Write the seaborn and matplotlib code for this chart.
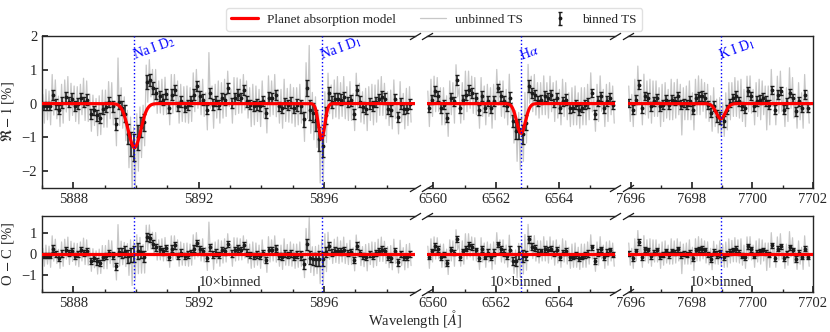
import numpy as np
import matplotlib
matplotlib.use("Agg")
import matplotlib.pyplot as plt
import seaborn as sns
from matplotlib.ticker import MultipleLocator

# binned transmission spectrum (R-1, in %), 0.1 A bins, first bin centre of each window
na_start, ha_start, k_start = 5887.05, 6559.85, 7695.95
bin_step = 0.1

na_rel = [-0.08, -0.08, -0.08, 0.26, 0.0, -0.18, 0.02, 0.2, 0.05, 0.15,
          -0.08, 0.0, 0.17, 0.05, 0.12, -0.32, -0.2, -0.35, -0.42, -0.15,
          -0.1, 0.05, -0.08, -0.6, 0.05, -0.13, -0.3, -0.9, -1.2, -1.3,
          -1.0, -0.7, -0.55, 0.64, 0.7, 0.46, 0.31, 0.22, 0.12, 0.28,
          -0.13, 0.26, 0.41, -0.08, 0.07, -0.1, -0.03, 0.07, 0.26, 0.51,
          0.22, 0.12, -0.18, 0.31, -0.03, 0.07, -0.03, 0.17, 0.12, 0.46,
          0.02, 0.17, 0.26, 0.17, 0.41, 0.07, -0.03, -0.08, -0.03, -0.08,
          0.07, -0.27, 0.17, 0.17, 0.26, -0.08, -0.13, 0.02, -0.05, 0.02,
          -0.13, -0.03, -0.08, -0.47, 0.46, -0.18, -0.27, -0.5, -1.05, -1.25,
          -0.35, 0.3, 0.05, 0.15, 0.15, 0.12, 0.2, 0.05, 0.1, -0.3,
          0.4, 0.05, -0.1, -0.15, 0.0, -0.08, 0.05, 0.15, 0.2, 0.15,
          -0.15, -0.2, 0.15, -0.4, 0.0, -0.15, -0.15, 0.0]
na_err = [0.12, 0.12, 0.12, 0.15, 0.15, 0.14, 0.16, 0.15, 0.14, 0.15,
          0.15, 0.16, 0.14, 0.15, 0.16, 0.15, 0.14, 0.16, 0.15, 0.15,
          0.16, 0.15, 0.17, 0.18, 0.2, 0.22, 0.25, 0.3, 0.35, 0.4,
          0.38, 0.3, 0.25, 0.2, 0.18, 0.17, 0.16, 0.15, 0.16, 0.15,
          0.15, 0.16, 0.15, 0.14, 0.16, 0.15, 0.15, 0.14, 0.16, 0.15,
          0.16, 0.15, 0.14, 0.15, 0.16, 0.15, 0.14, 0.15, 0.16, 0.15,
          0.15, 0.14, 0.16, 0.15, 0.15, 0.16, 0.14, 0.15, 0.16, 0.15,
          0.14, 0.15, 0.16, 0.15, 0.15, 0.14, 0.16, 0.15, 0.15, 0.16,
          0.16, 0.18, 0.2, 0.22, 0.25, 0.3, 0.28, 0.3, 0.35, 0.32,
          0.25, 0.2, 0.17, 0.16, 0.15, 0.16, 0.15, 0.14, 0.16, 0.15,
          0.15, 0.16, 0.14, 0.15, 0.16, 0.15, 0.15, 0.14, 0.16, 0.15,
          0.15, 0.16, 0.14, 0.15, 0.16, 0.15, 0.14, 0.15]
# spread of the unbinned points above / below each bin
na_up = [0.35, 0.5, 0.45, 0.6, 0.7, 0.4, 0.55, 0.5, 0.75, 0.45,
         0.6, 0.5, 0.4, 0.7, 0.55, 0.6, 0.45, 0.5, 0.65, 0.55,
         0.5, 0.6, 0.7, 0.55, 1.3, 0.6, 0.5, 0.7, 0.8, 0.6,
         0.7, 0.6, 0.5, 0.5, 0.6, 0.55, 0.7, 0.45, 0.6, 0.5,
         0.55, 0.6, 0.45, 0.75, 0.5, 0.6, 0.55, 0.4, 0.65, 0.5,
         0.45, 0.6, 0.5, 1.2, 0.55, 0.5, 0.7, 0.45, 0.6, 0.5,
         0.4, 0.6, 0.5, 0.55, 0.45, 0.6, 0.5, 0.65, 0.55, 0.5,
         0.6, 0.45, 0.65, 0.5, 0.6, 0.5, 0.55, 0.7, 0.5, 0.55,
         0.6, 0.5, 0.65, 0.55, 0.75, 1.9, 0.6, 0.7, 0.8, 0.9,
         0.7, 0.6, 0.5, 0.55, 0.65, 0.5, 0.6, 0.45, 0.55, 0.6,
         0.5, 0.55, 0.45, 0.6, 0.5, 0.65, 0.5, 0.55, 0.6, 0.45,
         0.5, 0.6, 0.55, 0.5, 0.65, 0.45, 0.6, 0.5]
na_dn = [0.5, 0.4, 0.55, 0.6, 0.45, 0.5, 0.6, 0.45, 0.55, 0.5,
         0.45, 0.6, 0.5, 0.55, 0.65, 0.5, 0.45, 0.6, 0.5, 0.55,
         0.6, 0.5, 0.55, 0.65, 0.7, 0.6, 0.8, 1.0, 1.5, 1.2,
         1.0, 0.9, 0.7, 0.6, 0.5, 0.55, 0.6, 0.5, 0.45, 0.6,
         0.5, 0.55, 0.65, 0.5, 0.6, 0.45, 0.55, 0.6, 0.5, 0.65,
         0.55, 0.5, 0.6, 0.45, 0.7, 0.5, 0.55, 0.6, 0.5, 0.55,
         0.6, 0.5, 0.55, 0.45, 0.6, 0.5, 0.65, 0.55, 0.5, 0.6,
         0.5, 0.6, 0.55, 0.5, 0.65, 0.5, 0.6, 0.55, 0.5, 0.6,
         0.55, 0.6, 0.5, 0.65, 0.9, 0.7, 0.8, 0.8, 1.3, 1.1,
         0.8, 0.6, 0.5, 0.55, 0.6, 0.5, 0.65, 0.55, 0.6, 0.5,
         0.55, 0.6, 0.5, 0.65, 0.5, 0.55, 0.6, 0.5, 0.55, 0.6,
         0.5, 0.55, 0.6, 0.5, 0.55, 0.6, 0.5, 0.55]

ha_rel = [-0.13, 0.12, 0.36, 0.22, -0.13, -0.03, -0.42, 0.17, 0.07, 0.7,
          -0.13, 0.12, 0.26, 0.41, 0.31, 0.17, -0.18, 0.22, -0.13, 0.07,
          -0.13, 0.07, 0.46, 0.22, 0.07, -0.08, 0.17, -0.52, -0.81, -0.76,
          -0.91, -0.57, 0.51, 0.31, 0.26, 0.07, 0.12, 0.22, 0.17, 0.26,
          0.02, 0.17, -0.13, 0.07, 0.12, -0.13, -0.13, -0.03, -0.18, -0.13,
          -0.03, 0.02, 0.31, -0.32, 0.07, 0.22, -0.13, 0.07, 0.17, -0.03]
ha_err = [0.12, 0.13, 0.15, 0.14, 0.15, 0.13, 0.14, 0.15, 0.13, 0.14,
          0.15, 0.13, 0.14, 0.15, 0.14, 0.13, 0.15, 0.14, 0.13, 0.15,
          0.14, 0.15, 0.13, 0.14, 0.15, 0.14, 0.16, 0.18, 0.25, 0.3,
          0.28, 0.22, 0.18, 0.15, 0.14, 0.15, 0.13, 0.14, 0.15, 0.14,
          0.13, 0.15, 0.14, 0.13, 0.15, 0.14, 0.13, 0.14, 0.15, 0.13,
          0.14, 0.15, 0.13, 0.14, 0.15, 0.13, 0.14, 0.15, 0.13, 0.12]
ha_up = [0.5, 0.6, 0.45, 0.55, 0.6, 0.5, 0.65, 0.5, 0.55, 0.45,
         0.6, 0.5, 0.7, 0.55, 0.5, 0.6, 0.45, 0.55, 0.65, 0.5,
         0.6, 0.5, 0.55, 0.45, 0.6, 0.5, 0.7, 0.55, 0.6, 0.5,
         0.55, 0.9, 0.65, 0.5, 0.6, 0.55, 0.5, 0.6, 0.45, 0.55,
         0.6, 0.5, 0.55, 0.65, 0.5, 0.45, 0.6, 0.55, 0.5, 0.6,
         0.5, 0.55, 0.6, 0.45, 0.5, 0.6, 0.55, 0.5, 0.45, 0.55]
ha_dn = [0.55, 0.5, 0.6, 0.45, 0.5, 0.6, 0.55, 0.5, 0.65, 0.5,
         0.45, 0.6, 0.5, 0.55, 0.6, 0.5, 0.55, 0.6, 0.5, 0.45,
         0.6, 0.55, 0.5, 0.6, 0.5, 0.55, 0.6, 0.65, 0.9, 1.2,
         0.8, 0.6, 0.5, 0.55, 0.6, 0.5, 0.45, 0.55, 0.6, 0.5,
         0.55, 0.6, 0.5, 0.45, 0.6, 0.55, 0.5, 0.6, 0.55, 0.5,
         0.6, 0.5, 0.55, 0.5, 0.6, 0.45, 0.55, 0.6, 0.5, 0.55]

k_rel = [0.02, -0.18, 0.12, 0.56, -0.13, 0.22, 0.17, -0.08, 0.07, 0.17,
         -0.08, -0.03, 0.12, -0.03, 0.12, 0.07, 0.22, -0.03, 0.02, -0.03,
         0.07, -0.18, 0.17, 0.22, 0.22, 0.17, -0.03, -0.27, -0.08, -0.37,
         -0.42, -0.52, -0.18, 0.02, 0.17, 0.22, 0.07, -0.08, -0.13, 0.36,
         0.22, -0.08, 0.07, 0.12, 0.17, 0.07, -0.03, 0.41, -0.18, 0.26,
         0.36, -0.18, 0.02, 0.31, 0.17, -0.23, 0.07, -0.13, 0.26, -0.13]
k_err = [0.12, 0.13, 0.14, 0.13, 0.14, 0.12, 0.13, 0.14, 0.13, 0.12,
         0.14, 0.13, 0.12, 0.14, 0.13, 0.12, 0.13, 0.14, 0.12, 0.13,
         0.14, 0.13, 0.12, 0.13, 0.14, 0.13, 0.12, 0.14, 0.15, 0.17,
         0.18, 0.16, 0.14, 0.13, 0.12, 0.14, 0.13, 0.12, 0.14, 0.13,
         0.12, 0.13, 0.14, 0.12, 0.13, 0.14, 0.13, 0.12, 0.14, 0.13,
         0.12, 0.13, 0.14, 0.13, 0.12, 0.14, 0.13, 0.12, 0.13, 0.12]
k_up = [0.5, 0.45, 0.6, 0.55, 0.5, 0.65, 0.5, 0.8, 0.6, 0.5,
        0.55, 0.6, 0.5, 0.45, 0.6, 0.55, 0.5, 0.6, 0.45, 0.55,
        0.6, 0.5, 0.55, 0.6, 0.5, 0.45, 0.6, 0.5, 0.55, 0.5,
        0.6, 0.55, 0.5, 0.6, 0.45, 0.55, 0.6, 0.8, 0.55, 0.45,
        0.6, 0.5, 0.55, 0.6, 0.5, 0.45, 0.55, 0.6, 0.5, 0.55,
        0.6, 0.5, 0.45, 0.75, 0.6, 0.5, 0.55, 0.45, 0.6, 0.5]
k_dn = [0.55, 0.5, 0.45, 0.6, 0.5, 0.55, 0.6, 0.5, 0.45, 0.55,
        0.6, 0.5, 0.55, 0.45, 0.6, 0.5, 0.55, 0.9, 0.5, 0.45,
        0.55, 0.6, 0.5, 0.55, 0.45, 0.6, 0.5, 0.55, 0.6, 0.5,
        0.55, 0.45, 0.6, 0.5, 0.55, 0.6, 0.5, 0.45, 0.55, 0.6,
        0.5, 0.55, 0.45, 0.6, 0.5, 0.85, 0.6, 0.5, 0.45, 0.55,
        0.6, 0.5, 0.55, 0.45, 0.6, 0.5, 0.55, 0.6, 0.5, 0.45]

# gaussian absorption model
line_names = ['Na I D$_2$', 'Na I D$_1$', r'H$\alpha$', 'K I D$_1$']
line_centers = [5889.95, 5895.92, 6562.80, 7698.96]
line_depths = [1.30, 1.05, 0.88, 0.45]
line_sigmas = [0.20, 0.10, 0.14, 0.15]

xlims = [(5887.0, 5898.9), (6559.8, 6565.8), (7695.9, 7702.0)]


def model(x):
    m = np.zeros_like(x)
    for c, d, s in zip(line_centers, line_depths, line_sigmas):
        m -= d * np.exp(-0.5 * ((x - c) / s) ** 2)
    return m


sns.set_theme(style='ticks')
plt.rcParams['font.family'] = ['Liberation Serif', 'DejaVu Serif']
plt.rcParams['mathtext.fontset'] = 'stix'
plt.rcParams['font.size'] = 10.5
plt.rcParams['axes.linewidth'] = 1.0

fig = plt.figure(figsize=(8.3, 3.32), dpi=100)
lefts = [0.0506, 0.5145, 0.7566]
widths = [0.4494, 0.2265, 0.2229]

panels = [(na_start, na_rel, na_err, na_up, na_dn),
          (ha_start, ha_rel, ha_err, ha_up, ha_dn),
          (k_start, k_rel, k_err, k_up, k_dn)]


def breaks(ax, x):
    kw = dict(marker=[(-1, -0.6), (1, 0.6)], markersize=8, linestyle='none',
              color='k', mec='k', mew=0.9, clip_on=False, transform=ax.transAxes)
    ax.plot([x, x], [0, 1], **kw)


handles = None
for j, (start, rel, err, up, dn) in enumerate(panels):
    rel = np.array(rel)
    xb = start + bin_step * np.arange(len(rel))
    gx = np.ravel(np.column_stack([xb - 0.025, xb + 0.025]))
    gy = np.ravel(np.column_stack([rel + np.array(up), rel - np.array(dn)]))
    xf = np.linspace(xlims[j][0], xlims[j][1], 800)

    ax_t = fig.add_axes([lefts[j], 0.4337, widths[j], 0.4578])
    ax_b = fig.add_axes([lefts[j], 0.1205, widths[j], 0.2289])

    for row, ax in enumerate([ax_t, ax_b]):
        off_b = model(xb) if row == 1 else 0
        off_g = model(gx) if row == 1 else 0
        sns.lineplot(x=gx, y=gy - off_g, ax=ax, color='0.78', lw=0.9,
                     estimator=None, sort=False, zorder=1)
        gline = ax.lines[-1]
        eb = ax.errorbar(xb, rel - off_b, yerr=err, fmt='.', color='k', ms=3.5,
                         elinewidth=1.1, capsize=1.6, capthick=1.0, zorder=2)
        if row == 0:
            sns.lineplot(x=xf, y=model(xf), ax=ax, color='red', lw=2.3, zorder=3)
        else:
            sns.lineplot(x=xf, y=model(xf) - model(xf), ax=ax, color='red', lw=2.3, zorder=3)
        mline = ax.lines[-1]
        if j == 0 and row == 0:
            handles = [mline, gline, eb]

        for name, c in zip(line_names, line_centers):
            if xlims[j][0] < c < xlims[j][1]:
                ax.axvline(c, color='blue', ls=':', lw=1, zorder=4)
                if row == 0:
                    ax.text(c + 0.05, 1.2, name, color='blue', fontsize=10,
                            rotation=20, rotation_mode='anchor', ha='left', va='bottom')

        ax.set_xlim(*xlims[j])
        ax.xaxis.set_major_locator(MultipleLocator(4 if j == 0 else 2))
        ax.xaxis.set_minor_locator(MultipleLocator(1))
        ax.tick_params(which='both', direction='in', labelsize=10.5)
        ax.tick_params(which='major', length=4)
        ax.tick_params(which='minor', length=2.5)
        if row == 0:
            ax.set_ylim(-2.5, 2)
            ax.set_yticks([-2, -1, 0, 1, 2])
        else:
            ax.set_ylim(-1.8, 1.8)
            ax.set_yticks([-1, 0, 1])
            ax.text(np.mean(xlims[j]) if j > 0 else 5893.0, -1.35, '10×binned',
                    ha='center', va='center', fontsize=10.5)
        if j > 0:
            ax.spines['left'].set_visible(False)
            ax.tick_params(axis='y', which='both', left=False, labelleft=False)
            breaks(ax, 0)
        if j < 2:
            ax.spines['right'].set_visible(False)
            breaks(ax, 1)
        if j == 0:
            ax.set_ylabel(r'$\Re-1$ [%]' if row == 0 else r'O $-$ C [%]', fontsize=10.5)

fig.supxlabel(r'Wavelength [$\AA$]', x=0.5, y=0.005, fontsize=10.5)
fig.legend(handles, ['Planet absorption model', 'unbinned TS', 'binned TS'],
           loc='upper center', bbox_to_anchor=(0.523, 0.995), ncol=3, fontsize=9.5,
           frameon=True, edgecolor='0.85', fancybox=True, handlelength=2.0,
           handletextpad=0.7, columnspacing=1.8)

fig.savefig('out.png', dpi=100)
